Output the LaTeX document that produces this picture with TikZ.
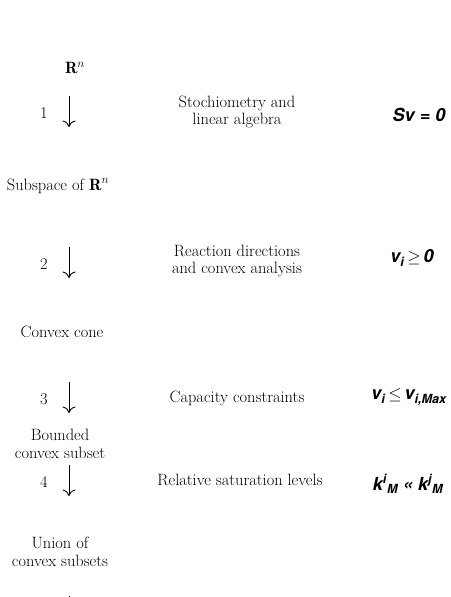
\documentclass[tikz,border=0pt]{standalone}
\usepackage{fontspec}
\newfontfamily\hel{TeX Gyre Heros}
\usetikzlibrary{arrows.meta}
\begin{document}
\begin{tikzpicture}[x=1pt,y=-1pt,
  lbl/.style={font=\fontsize{16.4}{17.8}\selectfont, align=center, inner sep=0},
  eqn/.style={font=\hel\bfseries\itshape\fontsize{18}{20}\selectfont, inner sep=0},
  stepnum/.style={font=\fontsize{16.4}{17.8}\selectfont, inner sep=0},
  flow/.style={-{Computer Modern Rightarrow[length=6.5pt,width=13pt]}, line width=0.9pt}]
\useasboundingbox (0,0) rectangle (450,597);
% states
\node[lbl] (s0) at (75,68) {$\mathbf{R}^n$};
\node[lbl] (s1) at (58,186) {Subspace of $\mathbf{R}^n$};
\node[lbl] (s2) at (62,332) {Convex cone};
\node[lbl] (s3) at (60,444) {Bounded\\convex subset};
\node[lbl] (s4) at (60,552) {Union of\\convex subsets};
% step numbers
\node[stepnum] (n1) at (44,113) {1};
\node[stepnum] (n2) at (44,264) {2};
\node[stepnum] (n3) at (44,399) {3};
\node[stepnum] (n4) at (44,482) {4};
% arrows
\coordinate (a1s) at (69,96);  \coordinate (a1e) at (69,127);
\coordinate (a2s) at (69,247); \coordinate (a2e) at (69,278);
\coordinate (a3s) at (69,382); \coordinate (a3e) at (69,413);
\coordinate (a4s) at (69,465); \coordinate (a4e) at (69,496);
\draw[flow] (a1s) -- (a1e);
\draw[flow] (a2s) -- (a2e);
\draw[flow] (a3s) -- (a3e);
\draw[flow] (a4s) -- (a4e);
\coordinate (a5s) at (69,595.5); \coordinate (a5e) at (69,597);
\draw[line width=0.9pt] (a5s) -- (a5e);
% descriptions
\node[lbl] (d1) at (237,112) {Stochiometry and\\linear algebra};
\node[lbl] (d2) at (237,261) {Reaction directions\\and convex analysis};
\node[lbl] (d3) at (237,398) {Capacity constraints};
\node[lbl] (d4) at (240,480) {Relative saturation levels};
% equations
\node[eqn] (e1) at (419,115) {Sv = 0};
\node[eqn] (e2) at (412,258) {v\textsubscript{i}\,$\geq$\,0};
\node[eqn] (e3) at (409,397) {v\textsubscript{i}\,$\leq$\,v\textsubscript{i,Max}};
\node[eqn] (e4) at (408,484) {k\textsuperscript{i}\textsubscript{M} « k\textsuperscript{j}\textsubscript{M}};
\end{tikzpicture}
\end{document}
